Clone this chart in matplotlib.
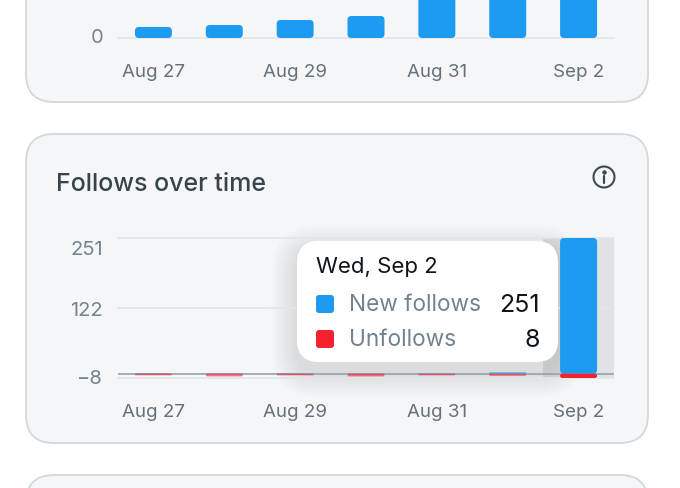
import matplotlib
matplotlib.use('Agg')
import matplotlib.pyplot as plt
from matplotlib.patches import FancyBboxPatch, Rectangle, Circle

plt.rcParams['font.family'] = ['Inter', 'DejaVu Sans']

W, H = 680, 489

# Data
days = ['Aug 27', 'Aug 28', 'Aug 29', 'Aug 30', 'Aug 31', 'Sep 1', 'Sep 2']
tick_days = ['Aug 27', 'Aug 29', 'Aug 31', 'Sep 2']
top_values = [11, 13, 18, 22, 60, 60, 60]  # upper bars run off the picture
new_follows = [0.6, 0.6, 0.6, 0.6, 0.6, 3, 251]
unfollows = [3, 5, 3, 5, 3, 4, 8]
follow_ticks = [251, 122, -8]
tooltip_date = 'Wed, Sep 2'

BLUE = '#1d9bf0'
RED = '#f4212e'
GRID = '#e1e6ea'
LABEL = '#667079'
YLABEL = '#73838f'

fig = plt.figure(figsize=(W / 100, H / 100), dpi=100, facecolor='white')


def px_axes(left, top, right, bottom, z):
    # 1 px down so lines land on the same rows as the reference
    a = fig.add_axes([left / W, 1 - (bottom + 1) / H, (right - left) / W, (bottom - top) / H], zorder=z)
    a.patch.set_alpha(0)
    return a


def rounded_bars(ax, x, values, color, radius_px, px_per_unit, alpha=1.0):
    # ax.bar gives the geometry, then each bar is swapped for a rounded one
    bars = ax.bar(x, values, width=37 / 70.9, color=color, alpha=0)
    for b in bars:
        h = abs(b.get_height())
        r = min(radius_px, h * px_per_unit / 2)
        ax.add_patch(FancyBboxPatch((b.get_x(), min(b.get_y(), b.get_y() + b.get_height())),
                                    b.get_width(), h,
                                    boxstyle=f'round,pad=0,rounding_size={r / 70.9}',
                                    mutation_aspect=70.9 / px_per_unit,
                                    fc=color, ec='none', alpha=alpha, zorder=3))


# Cards
bg = px_axes(0, 0, W, H, 0)
bg.set_xlim(0, W)
bg.set_ylim(H, 0)
bg.axis('off')
for y0, y1 in [(-80, 102), (134, 443), (475, 700)]:
    bg.add_patch(FancyBboxPatch((26, y0), 622, y1 - y0, boxstyle='round,pad=0,rounding_size=28',
                                fc='#f5f6f7', ec='#cfd9de', lw=1.3))
bg.text(56, 183, 'Follows over time', fontsize=18, color='#37444d', va='center', ha='left', fontweight='medium')
# info icon
bg.add_patch(Circle((604, 177), 10.5, fc='none', ec='#3d4a54', lw=1.5))
bg.plot([604, 604], [176, 183], color='#3d4a54', lw=1.6, solid_capstyle='round')
bg.plot([604], [171.5], 'o', color='#3d4a54', ms=2.2)

# hover band behind the last bar
bg.add_patch(Rectangle((543, 238), 71, 140, fc='#e0e2e3', ec='none'))

# tooltip shadow, stays under the bars
for grow in range(26, 0, -2):
    bg.add_patch(FancyBboxPatch((297 - grow, 241 - grow + 10), 261 + 2 * grow, 121 + 2 * grow,
                                boxstyle=f'round,pad=0,rounding_size={22 + grow}',
                                fc='black', ec='none', alpha=0.008))

# Top chart, cut off by the picture edge
ax1 = px_axes(118, 0, 614, 38, 1)
ax1.set_xlim(-0.5, 6.5)
ax1.set_ylim(0, 38)
rounded_bars(ax1, range(7), top_values, BLUE, 4, 1)
ax1.axhline(0, color=GRID, lw=1.2, clip_on=False, zorder=1)
ax1.set_xticks([days.index(d) for d in tick_days], tick_days)
ax1.set_yticks([])
ax1.tick_params(axis='x', length=0, pad=18, labelsize=13.5, labelcolor=LABEL)
for s in ax1.spines.values():
    s.set_visible(False)
ax1.annotate('0', (0, 0), xycoords=('axes fraction', 'data'), xytext=(-15, 1), textcoords='offset pixels',
             ha='right', va='center', fontsize=14.5, color=YLABEL, annotation_clip=False)

# Follows chart
px_unit = 140 / 259
ax2 = px_axes(118, 238, 614, 378, 1)
ax2.set_xlim(-0.5, 6.5)
ax2.set_ylim(follow_ticks[-1], follow_ticks[0])
for v in follow_ticks:
    ax2.axhline(v, color=GRID, lw=1.2, clip_on=False, zorder=1)
ax2.axhline(0, color='#90a4b3', lw=1.2, zorder=2)
for i in range(7):
    hovered = i == 6
    rounded_bars(ax2, [i], [new_follows[i]], BLUE, 4, px_unit, 1 if hovered else 0.6)
    rounded_bars(ax2, [i], [-unfollows[i]], RED, 3, px_unit, 1 if hovered else 0.6)
ax2.set_xticks([days.index(d) for d in tick_days], tick_days)
ax2.set_yticks([])
ax2.tick_params(axis='x', length=0, pad=18, labelsize=13.5, labelcolor=LABEL)
for s in ax2.spines.values():
    s.set_visible(False)
# y labels sit a little under their gridlines
for v, off in zip(follow_ticks, [-11, -2, 0]):
    ax2.annotate(('−8' if v < 0 else str(v)), (0, v), xycoords=('axes fraction', 'data'),
                 xytext=(-15, off), textcoords='offset pixels', ha='right', va='center',
                 fontsize=14.5, color=YLABEL, annotation_clip=False)

# Tooltip
top = px_axes(0, 0, W, H, 2)
top.set_xlim(0, W)
top.set_ylim(H, 0)
top.axis('off')
top.add_patch(FancyBboxPatch((297, 241), 261, 121, boxstyle='round,pad=0,rounding_size=22', fc='white', ec='none'))
top.text(316, 265.5, tooltip_date, fontsize=16, color='#0f1419', va='center', ha='left')
rows = [('New follows', BLUE, new_follows[-1], 304), ('Unfollows', RED, unfollows[-1], 339)]
for name, col, val, y in rows:
    top.add_patch(FancyBboxPatch((316, y - 9), 18, 18, boxstyle='round,pad=0,rounding_size=3', fc=col, ec='none'))
    top.text(349, y, name, fontsize=16.3, color='#73828f', va='center', ha='left')
    top.text(540, y, str(val), fontsize=18, color='#0f1419', va='center', ha='right')

fig.savefig('out.png', dpi=100)
